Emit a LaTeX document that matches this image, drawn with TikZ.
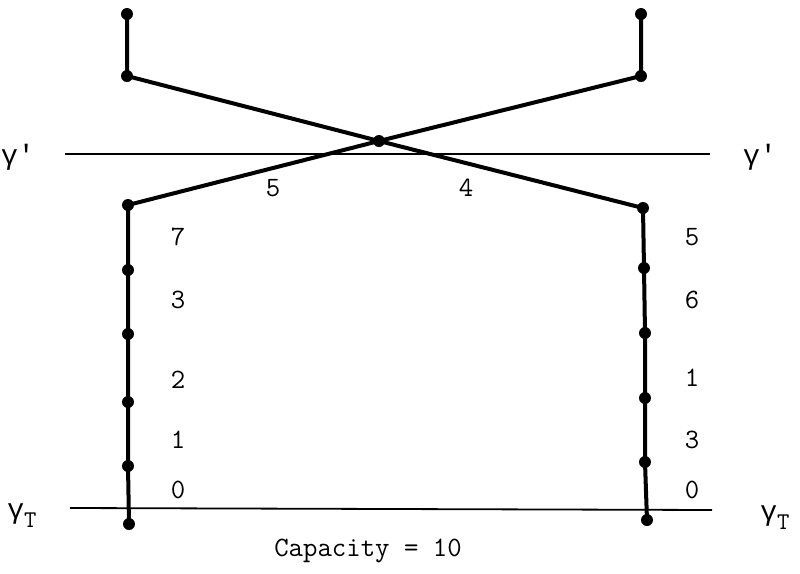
\documentclass[tikz,border=0pt]{standalone}
\usepackage{fontspec}
\newfontfamily\gfont{Liberation Mono}
\begin{document}
\begin{tikzpicture}[x=0.5pt,y=-0.5pt,
  dot/.style={circle,fill=black,inner sep=0pt,minimum size=6pt},
  heavy/.style={line width=2pt},
  thinline/.style={line width=0.9pt},
  lbl/.style={font=\ttfamily\fontsize{14}{16}\selectfont,inner sep=0pt},
  glbl/.style={font=\gfont\fontsize{14}{16}\selectfont,inner sep=0pt}]
\useasboundingbox (0,0) rectangle (800,574);
% left column
\node[dot] (L0) at (127,14) {};
\node[dot] (L1) at (127,76) {};
\node[dot] (L2) at (128,205) {};
\node[dot] (L3) at (128,270) {};
\node[dot] (L4) at (128,334) {};
\node[dot] (L5) at (128,402) {};
\node[dot] (L6) at (128,466) {};
\node[dot] (L7) at (129,524) {};
% right column
\node[dot] (R0) at (641,14) {};
\node[dot] (R1) at (641,76) {};
\node[dot] (R2) at (643,208) {};
\node[dot] (R3) at (644,268) {};
\node[dot] (R4) at (645,333) {};
\node[dot] (R5) at (645,398) {};
\node[dot] (R6) at (645,462) {};
\node[dot] (R7) at (647,520) {};
\node[dot] (X) at (379,141) {};
% horizontal lines
\coordinate (ga) at (65,154);
\coordinate (gb) at (710,154);
\coordinate (ta) at (70,508);
\coordinate (tb) at (712,510);
\draw[thinline] (ga) -- (gb);
\draw[thinline] (ta) -- (tb);
% heavy paths
\draw[heavy] (L0.center) -- (L1.center) -- (X.center) -- (R2.center) -- (R3.center) -- (R4.center) -- (R5.center) -- (R6.center) -- (R7.center);
\draw[heavy] (R0.center) -- (R1.center) -- (X.center) -- (L2.center) -- (L3.center) -- (L4.center) -- (L5.center) -- (L6.center) -- (L7.center);
% labels
\node[glbl] (g1) at (18,157) {γ'};
\node[glbl] (g2) at (760,157) {γ'};
\node[glbl] (t1) at (22,516) {γ\raisebox{-0.6ex}{\ttfamily\fontsize{12}{14}\selectfont T}};
\node[glbl] (t2) at (775,518) {γ\raisebox{-0.6ex}{\ttfamily\fontsize{12}{14}\selectfont T}};
\node[lbl] (c5) at (273,188) {5};
\node[lbl] (c4) at (466,188) {4};
\node[lbl] at (178,237) {7};
\node[lbl] at (178,300) {3};
\node[lbl] at (178,380) {2};
\node[lbl] at (178,440) {1};
\node[lbl] at (178,490) {0};
\node[lbl] at (692,237) {5};
\node[lbl] at (692,300) {6};
\node[lbl] at (692,378) {1};
\node[lbl] at (692,440) {3};
\node[lbl] at (692,490) {0};
\node[font=\ttfamily\fontsize{14}{16}\selectfont,inner sep=0pt] (cap) at (368,551) {Capacity = 10};
\end{tikzpicture}
\end{document}
